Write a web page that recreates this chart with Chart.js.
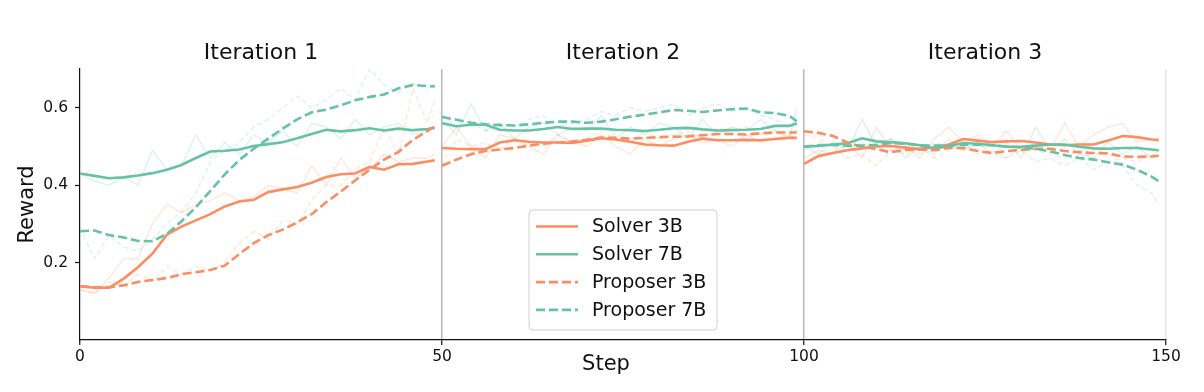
<!DOCTYPE html>
<html>
<head>
<meta charset="utf-8">
<script src="https://cdn.jsdelivr.net/npm/chart.js@4.4.1/dist/chart.umd.min.js"></script>
<style>
  body { margin: 0; background: #fff; }
  #wrap { width: 1204px; height: 392px; }
</style>
</head>
<body>
<div id="wrap"><canvas id="rewardCanvas" width="1204" height="392"></canvas></div>
<script>
const steps = [0, 2, 4, 6, 8, 10, 12, 14, 16, 18, 20, 22, 24, 26, 28, 30, 32, 34, 36, 38, 40, 42, 44, 46, 48, 49];
const iterStart = [0, 50, 100];
const iterTitles = ['Iteration 1', 'Iteration 2', 'Iteration 3'];
const xTicks = [0, 50, 100, 150];
const yTicks = [0.2, 0.4, 0.6];

// smoothed curves, one row per iteration
const solver3bSmooth = [
  [.139, .135, .135, .158, .188, .223, .272, .293, .309, .325, .345, .358, .362, .382, .389, .395, .406, .421, .428, .430, .447, .440, .454, .455, .461, .464],
  [.496, .494, .493, .493, .510, .516, .512, .510, .510, .509, .515, .521, .518, .512, .505, .503, .502, .512, .520, .516, .516, .517, .516, .519, .522, .522],
  [.455, .475, .483, .490, .495, .500, .501, .497, .493, .498, .505, .519, .515, .511, .513, .514, .510, .505, .503, .505, .505, .515, .527, .524, .518, .517]
];
const solver7bSmooth = [
  [.430, .424, .418, .420, .425, .431, .440, .452, .470, .487, .489, .492, .501, .506, .511, .521, .532, .543, .539, .542, .547, .541, .546, .542, .545, .548],
  [.560, .552, .556, .556, .543, .541, .541, .545, .550, .545, .546, .546, .543, .542, .540, .543, .547, .548, .544, .541, .542, .543, .545, .553, .553, .560],
  [.499, .501, .505, .508, .521, .513, .511, .508, .503, .494, .501, .509, .507, .503, .499, .499, .502, .505, .505, .499, .495, .494, .496, .496, .492, .490]
];
const proposer3bSmooth = [
  [.139, .136, .136, .141, .150, .155, .160, .170, .175, .181, .192, .222, .250, .271, .285, .304, .325, .356, .383, .412, .440, .466, .486, .517, .540, .552],
  [.450, .466, .480, .488, .492, .496, .502, .507, .510, .513, .517, .523, .522, .520, .522, .524, .525, .526, .529, .532, .532, .531, .534, .536, .536, .536],
  [.539, .535, .527, .510, .499, .493, .485, .491, .492, .490, .496, .496, .488, .483, .488, .491, .494, .494, .488, .485, .483, .482, .474, .473, .474, .476]
];
const proposer7bSmooth = [
  [.281, .283, .271, .265, .256, .255, .274, .306, .343, .385, .428, .465, .494, .520, .546, .570, .588, .595, .606, .619, .628, .634, .650, .659, .656, .655],
  [.576, .569, .561, .557, .555, .554, .557, .561, .564, .564, .561, .564, .570, .577, .582, .588, .594, .592, .589, .593, .596, .598, .588, .586, .579, .565],
  [.500, .503, .504, .502, .502, .504, .509, .507, .503, .502, .502, .504, .505, .503, .500, .497, .494, .487, .478, .470, .466, .459, .453, .440, .422, .410]
];

// raw (faint) curves
const solver3bRaw = [
  [.13, .12, .16, .21, .21, .30, .35, .33, .35, .36, .38, .36, .37, .40, .39, .38, .45, .40, .47, .42, .44, .48, .46, .47, .47, .48],
  [.50, .55, .50, .47, .53, .52, .50, .48, .53, .51, .50, .53, .50, .48, .52, .50, .52, .53, .51, .52, .50, .53, .51, .52, .53, .52],
  [.47, .49, .48, .51, .47, .55, .49, .50, .47, .52, .55, .51, .53, .50, .54, .49, .51, .49, .56, .50, .53, .55, .56, .51, .52, .51]
];
const solver7bRaw = [
  [.43, .41, .40, .42, .40, .49, .44, .45, .53, .47, .51, .48, .53, .51, .54, .50, .56, .55, .52, .57, .53, .55, .56, .53, .54, .55],
  [.57, .53, .61, .54, .56, .52, .55, .56, .53, .55, .54, .58, .52, .55, .53, .56, .55, .52, .57, .53, .55, .54, .57, .54, .52, .60],
  [.50, .48, .51, .49, .57, .50, .52, .47, .50, .48, .52, .49, .51, .48, .51, .47, .55, .49, .52, .48, .47, .51, .48, .50, .47, .49]
];
const proposer3bRaw = [
  [.13, .12, .15, .14, .17, .15, .19, .17, .19, .18, .20, .25, .28, .26, .31, .30, .36, .40, .40, .44, .46, .55, .48, .65, .56, .62],
  [.45, .52, .50, .51, .49, .52, .51, .50, .53, .51, .52, .54, .52, .51, .54, .52, .53, .54, .52, .54, .53, .55, .53, .54, .53, .54],
  [.53, .52, .50, .47, .48, .45, .49, .48, .50, .47, .49, .50, .48, .49, .47, .50, .49, .48, .47, .49, .47, .46, .47, .46, .48, .47]
];
const proposer7bRaw = [
  [.29, .21, .27, .24, .23, .26, .30, .33, .38, .46, .49, .51, .55, .57, .60, .63, .60, .62, .65, .62, .70, .66, .64, .66, .65, .66],
  [.58, .55, .56, .54, .56, .55, .57, .58, .55, .56, .57, .59, .58, .60, .59, .60, .61, .58, .60, .61, .59, .60, .58, .57, .55, .57],
  [.49, .51, .50, .49, .51, .49, .52, .50, .48, .51, .50, .49, .51, .48, .47, .49, .46, .47, .45, .47, .44, .46, .45, .40, .38, .35]
];

const ORANGE = '#fc8d62';
const GREEN = '#66c2a5';
const FONT = "'DejaVu Sans', 'Liberation Sans', sans-serif";

const series = [
  { label: 'Solver 3B', color: ORANGE, faint: 'rgba(252,141,98,0.22)', dashed: false, smooth: solver3bSmooth, raw: solver3bRaw },
  { label: 'Solver 7B', color: GREEN, faint: 'rgba(102,194,165,0.22)', dashed: false, smooth: solver7bSmooth, raw: solver7bRaw },
  { label: 'Proposer 3B', color: ORANGE, faint: 'rgba(252,141,98,0.22)', dashed: true, smooth: proposer3bSmooth, raw: proposer3bRaw },
  { label: 'Proposer 7B', color: GREEN, faint: 'rgba(102,194,165,0.22)', dashed: true, smooth: proposer7bSmooth, raw: proposer7bRaw }
];

function points(vals, it) {
  return steps.map((s, i) => ({ x: iterStart[it] + s, y: vals[i] }));
}

const datasets = [];
series.forEach((s, k) => {
  for (let it = 0; it < 3; it++) {
    datasets.push({
      data: points(s.raw[it], it),
      borderColor: s.faint,
      borderWidth: 1.4,
      borderDash: s.dashed ? [5, 3] : [],
      pointRadius: 0,
      tension: 0,
      order: 20 - k
    });
  }
});
series.forEach((s, k) => {
  for (let it = 0; it < 3; it++) {
    datasets.push({
      data: points(s.smooth[it], it),
      borderColor: s.color,
      borderWidth: 2.6,
      borderDash: s.dashed ? [9, 4] : [],
      pointRadius: 0,
      tension: 0,
      order: 10 - k
    });
  }
});

const overlay = {
  id: 'overlay',
  afterDatasetsDraw(chart) {
    const ctx = chart.ctx;
    // legend box
    const bx = 529, by = 210, bw = 188, bh = 120;
    ctx.save();
    ctx.beginPath();
    ctx.roundRect(bx, by, bw, bh, 4);
    ctx.fillStyle = 'rgba(255,255,255,0.85)';
    ctx.fill();
    ctx.strokeStyle = '#d0d0d0';
    ctx.lineWidth = 1;
    ctx.stroke();
    ctx.font = '19px ' + FONT;
    ctx.textBaseline = 'middle';
    ctx.fillStyle = '#111';
    series.forEach((s, i) => {
      const y = 226.5 + i * 27.8;
      ctx.beginPath();
      ctx.setLineDash(s.dashed ? [9, 4] : []);
      ctx.strokeStyle = s.color;
      ctx.lineWidth = 2.6;
      ctx.moveTo(536, y);
      ctx.lineTo(578, y);
      ctx.stroke();
      ctx.setLineDash([]);
      ctx.fillText(s.label, 592, y + 1);
    });
    ctx.restore();
  },
  afterDraw(chart) {
    const ctx = chart.ctx;
    const xs = chart.scales.x;
    ctx.save();
    ctx.fillStyle = '#111';
    ctx.textAlign = 'center';
    ctx.textBaseline = 'alphabetic';
    ctx.font = '22px ' + FONT;
    iterTitles.forEach((t, i) => {
      ctx.fillText(t, xs.getPixelForValue(iterStart[i] + 25), 59);
    });
    ctx.font = '21px ' + FONT;
    ctx.fillText('Step', 606, 370);
    ctx.restore();
  }
};

new Chart(document.getElementById('rewardCanvas'), {
  type: 'line',
  data: { datasets },
  options: {
    responsive: false,
    animation: false,
    events: [],
    layout: { padding: { left: 0, right: 38, top: 69, bottom: 0 } },
    plugins: { legend: { display: false }, tooltip: { enabled: false } },
    scales: {
      x: {
        type: 'linear',
        min: 0,
        max: 150,
        afterBuildTicks: (scale) => { scale.ticks = xTicks.map(v => ({ value: v })); },
        afterFit: (scale) => { scale.height = 52; },
        ticks: { color: '#111', font: { size: 15.5, family: FONT }, padding: 3, maxRotation: 0, autoSkip: false,
                 callback: (v) => String(v) },
        grid: {
          color: (c) => {
            const v = c.tick && c.tick.value;
            if (v === 50 || v === 100) return '#b8b8b8';
            if (v === 150) return '#e6e6e6';
            return 'rgba(0,0,0,0)';
          },
          lineWidth: 1.5,
          tickColor: '#111',
          tickLength: 5,
          tickWidth: 1.2
        },
        border: { color: '#111', width: 1.2 }
      },
      y: {
        min: 0,
        max: 0.7,
        afterBuildTicks: (scale) => { scale.ticks = yTicks.map(v => ({ value: v })); },
        afterFit: (scale) => { scale.width = 80; },
        ticks: { color: '#111', font: { size: 15.5, family: FONT }, padding: 7,
                 callback: (v) => Number(v).toFixed(1) },
        grid: { drawOnChartArea: false, tickColor: '#111', tickLength: 5, tickWidth: 1.2 },
        border: { color: '#111', width: 1.2 },
        title: { display: true, text: 'Reward', color: '#111', font: { size: 21, family: FONT }, padding: { top: 15, bottom: 0 } }
      }
    }
  },
  plugins: [overlay]
});
</script>
</body>
</html>
